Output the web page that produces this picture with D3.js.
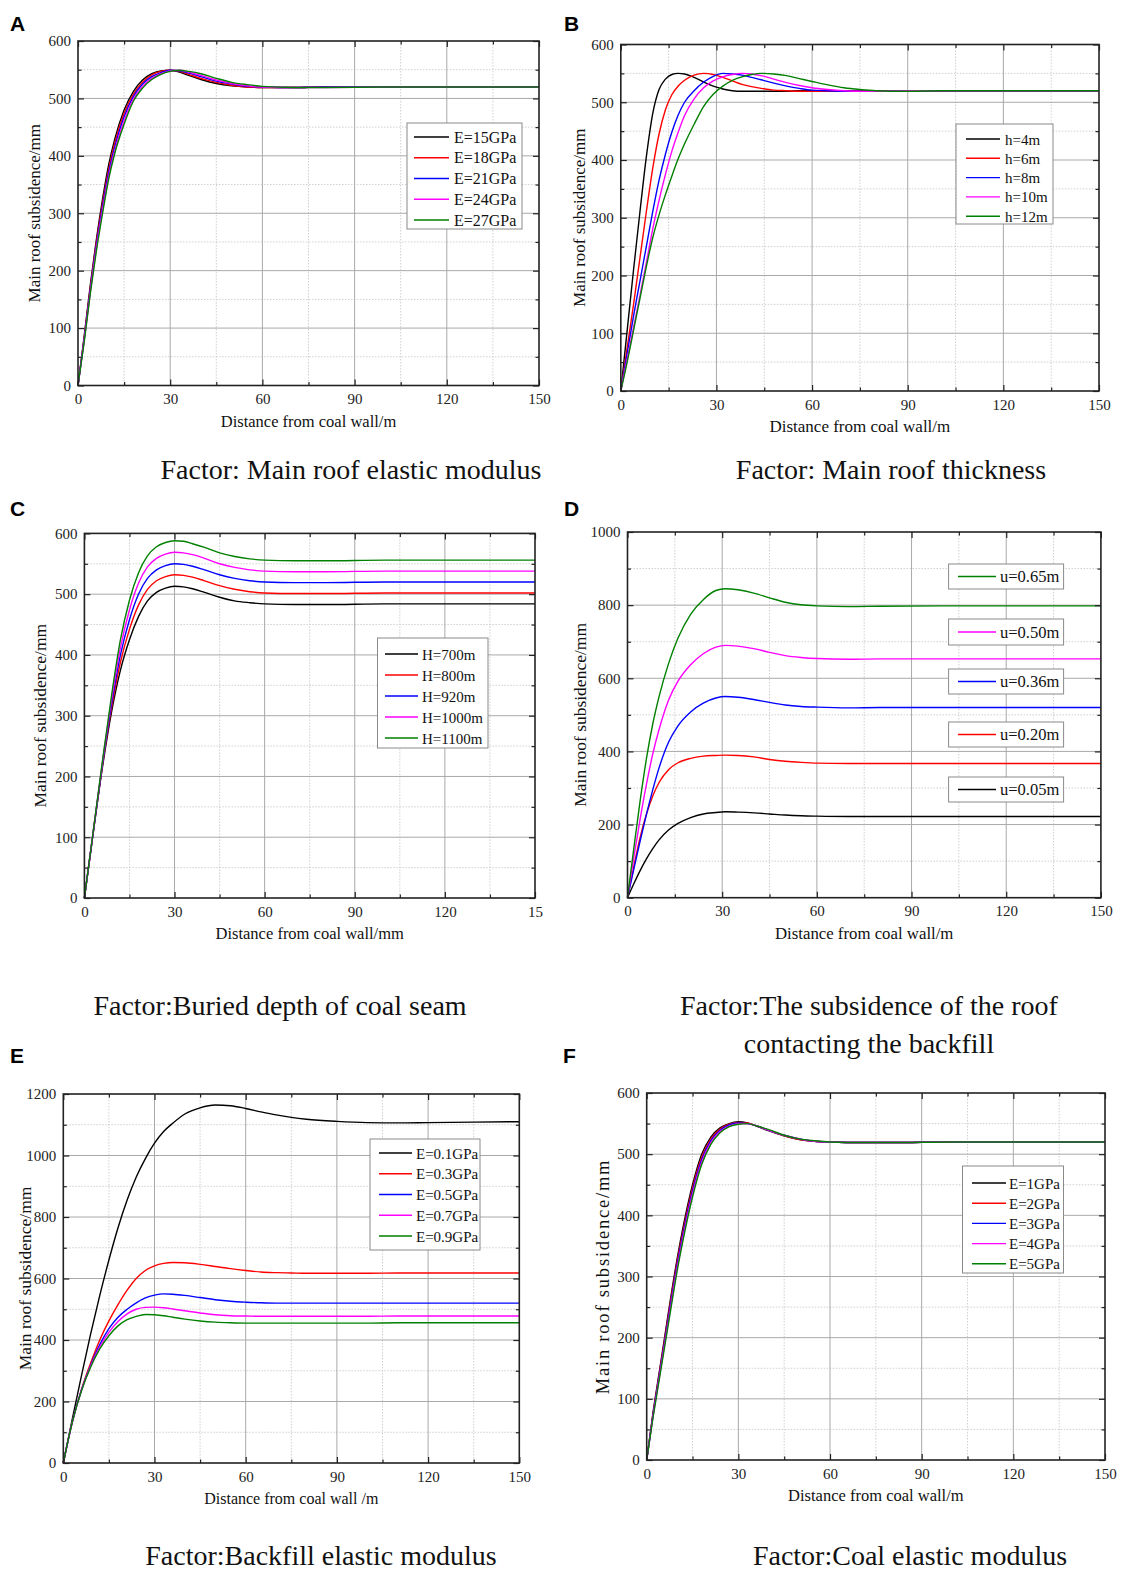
<!DOCTYPE html>
<html lang="en">
<head>
<meta charset="UTF-8">
<script src="https://d3js.org/d3.v7.min.js"></script>
<style>
    body { margin: 0; background: #fff; }
    svg { display: block; }
    .tick text { font-family: "Liberation Serif", "Times New Roman", serif; font-size: 15px; fill: #222; }
    .axis-title { font-family: "Liberation Serif", "Times New Roman", serif; fill: #111; }
    .caption { font-family: "Liberation Serif", "Times New Roman", serif; font-size: 28px; fill: #111; }
    .letter { font-family: "Liberation Sans", Arial, sans-serif; font-weight: bold; font-size: 21px; fill: #000; }
    .legend-text { font-family: "Liberation Serif", "Times New Roman", serif; fill: #111; }
</style>
</head>
<body>
<svg id="fig" width="1121" height="1575"></svg>
<script>
// ---- data ----
const seriesColors = ["#000000", "#ff0000", "#0000ff", "#ff00ff", "#008000"];
const xTicks = [0, 30, 60, 90, 120, 150];

// A: main roof elastic modulus
const aNames = ["E=15GPa", "E=18GPa", "E=21GPa", "E=24GPa", "E=27GPa"];
const aX = [0, 2, 4, 6, 8, 10, 12, 15, 18, 21, 24, 27, 30, 33, 36, 40, 45, 50, 55, 60, 70, 80, 100, 150];
const aValues = [
    [0, 85, 175, 255, 325, 385, 430, 480, 512, 532, 543, 548, 549, 546, 540, 533, 526, 522, 520, 519, 519, 520, 520, 520],
    [0, 82, 170, 250, 318, 377, 423, 474, 507, 528, 541, 547, 549, 547, 542, 535, 528, 523, 520, 519, 519, 520, 520, 520],
    [0, 80, 166, 245, 312, 371, 416, 468, 503, 525, 538, 545, 549, 548, 544, 538, 530, 525, 521, 520, 519, 520, 520, 520],
    [0, 78, 163, 240, 306, 365, 410, 461, 499, 521, 535, 543, 548, 549, 546, 540, 532, 526, 522, 520, 519, 519, 520, 520],
    [0, 75, 160, 235, 300, 360, 405, 455, 495, 518, 533, 542, 547, 549, 547, 543, 535, 528, 524, 521, 519, 519, 520, 520]
];

// B: main roof thickness
const bNames = ["h=4m", "h=6m", "h=8m", "h=10m", "h=12m"];
const bX = [0, 2, 4, 6, 8, 10, 12, 14, 16, 18, 20, 23, 26, 29, 32, 35, 38, 41, 44, 48, 52, 56, 60, 65, 70, 75, 80, 90, 100, 150];
const bValues = [
    [0, 105, 210, 310, 405, 480, 522, 540, 548, 550, 549, 543, 535, 528, 523, 520, 519, 519, 519, 519, 519, 520, 520, 520, 520, 520, 520, 520, 520, 520],
    [0, 75, 150, 230, 310, 385, 445, 487, 513, 528, 538, 547, 550, 548, 543, 537, 531, 527, 524, 521, 520, 519, 519, 519, 519, 520, 520, 520, 520, 520],
    [0, 65, 130, 190, 250, 310, 365, 410, 448, 478, 500, 520, 535, 545, 550, 549, 547, 543, 539, 533, 528, 524, 521, 520, 519, 519, 519, 520, 520, 520],
    [0, 55, 110, 165, 222, 280, 330, 375, 415, 448, 477, 506, 525, 537, 544, 548, 550, 549, 546, 540, 534, 529, 525, 522, 520, 519, 519, 520, 520, 520],
    [0, 50, 105, 160, 215, 265, 305, 340, 372, 402, 428, 462, 493, 514, 528, 538, 544, 548, 550, 549, 546, 541, 536, 530, 525, 522, 520, 519, 520, 520]
];

// C: buried depth of coal seam
const cNames = ["H=700m", "H=800m", "H=920m", "H=1000m", "H=1100m"];
const cX = [0, 3, 6, 9, 12, 15, 18, 21, 24, 27, 30, 33, 36, 40, 45, 50, 55, 60, 70, 80, 100, 150];
const cValues = [
    [0, 110, 215, 305, 375, 425, 463, 489, 503, 510, 513, 512, 509, 503, 495, 489, 486, 484, 483, 483, 484, 484],
    [0, 110, 218, 312, 388, 442, 482, 508, 522, 529, 532, 531, 528, 522, 514, 508, 504, 502, 501, 501, 502, 502],
    [0, 110, 220, 318, 400, 458, 500, 526, 540, 547, 550, 549, 546, 540, 532, 526, 522, 520, 519, 519, 520, 520],
    [0, 112, 223, 325, 412, 474, 518, 545, 559, 566, 569, 568, 565, 559, 550, 544, 540, 538, 537, 537, 538, 538],
    [0, 112, 225, 332, 425, 490, 535, 563, 578, 585, 588, 587, 583, 577, 568, 562, 558, 556, 555, 555, 556, 556]
];
const cTickLabels = ["0", "30", "60", "90", "120", "15"];

// D: subsidence of the roof contacting the backfill
const dNames = ["u=0.05m", "u=0.20m", "u=0.36m", "u=0.50m", "u=0.65m"];
const dX = [0, 2, 4, 6, 8, 10, 13, 16, 20, 24, 28, 31, 35, 40, 45, 50, 55, 60, 70, 80, 100, 150];
const dValues = [
    [0, 38, 74, 106, 134, 158, 185, 203, 219, 229, 233, 235, 234, 232, 229, 226, 224, 223, 222, 222, 222, 222],
    [0, 85, 165, 228, 278, 315, 350, 369, 381, 387, 389, 390, 389, 385, 378, 373, 370, 368, 367, 367, 367, 367],
    [0, 78, 155, 228, 295, 355, 425, 470, 508, 532, 546, 550, 548, 542, 534, 527, 523, 521, 519, 520, 520, 520],
    [0, 110, 215, 310, 393, 460, 540, 592, 637, 667, 685, 690, 688, 681, 671, 662, 657, 654, 652, 653, 653, 653],
    [0, 135, 265, 380, 475, 550, 640, 710, 775, 815, 840, 845, 842, 833, 820, 808, 801, 798, 796, 797, 798, 798]
];

// E: backfill elastic modulus
const eNames = ["E=0.1GPa", "E=0.3GPa", "E=0.5GPa", "E=0.7GPa", "E=0.9GPa"];
const eX = [0, 3, 6, 9, 12, 15, 18, 21, 24, 27, 30, 33, 36, 40, 45, 50, 55, 60, 65, 70, 75, 80, 90, 100, 110, 120, 150];
const eValues = [
    [0, 145, 285, 420, 545, 660, 765, 855, 930, 990, 1040, 1078, 1105, 1135, 1155, 1164, 1162, 1153, 1142, 1132, 1124, 1118, 1111, 1107, 1106, 1107, 1110],
    [0, 135, 240, 325, 400, 462, 515, 562, 600, 626, 641, 649, 652, 651, 646, 639, 632, 626, 621, 619, 618, 617, 617, 617, 618, 618, 618],
    [0, 135, 238, 318, 385, 437, 474, 500, 521, 537, 546, 550, 549, 545, 538, 531, 526, 523, 521, 520, 520, 520, 520, 520, 520, 520, 520],
    [0, 135, 237, 315, 378, 425, 460, 485, 500, 506, 507, 505, 501, 495, 488, 482, 479, 478, 477, 477, 477, 477, 477, 477, 478, 478, 478],
    [0, 135, 236, 312, 371, 414, 446, 466, 477, 483, 482, 479, 474, 468, 462, 458, 456, 455, 455, 455, 455, 455, 455, 455, 456, 456, 456]
];

// F: coal elastic modulus
const fNames = ["E=1GPa", "E=2GPa", "E=3GPa", "E=4GPa", "E=5GPa"];
const fX = [0, 2, 4, 6, 8, 10, 12, 15, 18, 21, 24, 27, 30, 33, 36, 40, 45, 50, 55, 60, 70, 80, 100, 150];
const fValues = [
    [0, 75, 140, 205, 270, 330, 383, 450, 500, 528, 543, 550, 553, 551, 546, 538, 530, 524, 521, 520, 519, 519, 520, 520],
    [0, 73, 137, 201, 265, 325, 377, 445, 495, 525, 541, 549, 552, 551, 546, 539, 530, 524, 521, 520, 519, 519, 520, 520],
    [0, 71, 134, 197, 260, 320, 372, 440, 491, 522, 539, 548, 551, 550, 546, 539, 531, 525, 521, 520, 519, 519, 520, 520],
    [0, 69, 131, 193, 255, 315, 367, 435, 487, 519, 537, 546, 550, 550, 546, 539, 531, 525, 521, 520, 519, 519, 520, 520],
    [0, 67, 128, 189, 250, 310, 362, 430, 483, 516, 535, 545, 549, 550, 546, 540, 531, 525, 522, 520, 519, 519, 520, 520]
];

const svg = d3.select("#fig");

function drawPanel(p) {
    const g = svg.append("g");
    const x = d3.scaleLinear().domain([0, 150]).range([p.left, p.right]);
    const y = d3.scaleLinear().domain([0, p.yMax]).range([p.bottom, p.top]);
    const yTicks = d3.range(0, p.yMax + 1, p.yStep);
    const xMinor = d3.range(15, 150, 30);
    const yMinor = d3.range(p.yStep / 2, p.yMax, p.yStep);

    // minor grid (dotted)
    g.selectAll(".gx2").data(xMinor).join("line")
        .attr("x1", d => x(d)).attr("x2", d => x(d)).attr("y1", p.top).attr("y2", p.bottom)
        .attr("stroke", "#c4c4c4").attr("stroke-width", 0.8).attr("stroke-dasharray", "1.5,1.5");
    g.selectAll(".gy2").data(yMinor).join("line")
        .attr("y1", d => y(d)).attr("y2", d => y(d)).attr("x1", p.left).attr("x2", p.right)
        .attr("stroke", "#c4c4c4").attr("stroke-width", 0.8).attr("stroke-dasharray", "1.5,1.5");
    // major grid
    g.selectAll(".gx").data(xTicks.slice(1, -1)).join("line")
        .attr("x1", d => x(d)).attr("x2", d => x(d)).attr("y1", p.top).attr("y2", p.bottom)
        .attr("stroke", "#a9a9a9").attr("stroke-width", 1);
    g.selectAll(".gy").data(yTicks.slice(1, -1)).join("line")
        .attr("y1", d => y(d)).attr("y2", d => y(d)).attr("x1", p.left).attr("x2", p.right)
        .attr("stroke", "#a9a9a9").attr("stroke-width", 1);

    // curves
    const line = d3.line().x(d => x(d[0])).y(d => y(d[1])).curve(d3.curveMonotoneX);
    p.values.forEach((vals, i) => {
        g.append("path")
            .datum(p.xs.map((xv, j) => [xv, vals[j]]))
            .attr("fill", "none")
            .attr("stroke", seriesColors[i])
            .attr("stroke-width", 1.4)
            .attr("d", line);
    });

    // axes, inward ticks on all four sides
    const tickLabels = p.xLabels || xTicks.map(String);
    g.append("g").attr("transform", `translate(0,${p.bottom})`)
        .call(d3.axisBottom(x).tickValues(xTicks).tickSizeInner(-6).tickSizeOuter(0).tickPadding(8)
            .tickFormat((d, i) => tickLabels[i]));
    g.append("g").attr("transform", `translate(0,${p.bottom})`)
        .call(d3.axisBottom(x).tickValues(xMinor).tickSizeInner(-3.5).tickSizeOuter(0).tickFormat(""));
    g.append("g").attr("transform", `translate(0,${p.top})`)
        .call(d3.axisTop(x).tickValues(xTicks).tickSizeInner(-6).tickSizeOuter(0).tickFormat(""));
    g.append("g").attr("transform", `translate(0,${p.top})`)
        .call(d3.axisTop(x).tickValues(xMinor).tickSizeInner(-3.5).tickSizeOuter(0).tickFormat(""));
    g.append("g").attr("transform", `translate(${p.left},0)`)
        .call(d3.axisLeft(y).tickValues(yTicks).tickSizeInner(-6).tickSizeOuter(0).tickPadding(7)
            .tickFormat(d3.format("d")));
    g.append("g").attr("transform", `translate(${p.left},0)`)
        .call(d3.axisLeft(y).tickValues(yMinor).tickSizeInner(-3.5).tickSizeOuter(0).tickFormat(""));
    g.append("g").attr("transform", `translate(${p.right},0)`)
        .call(d3.axisRight(y).tickValues(yTicks).tickSizeInner(-6).tickSizeOuter(0).tickFormat(""));
    g.append("g").attr("transform", `translate(${p.right},0)`)
        .call(d3.axisRight(y).tickValues(yMinor).tickSizeInner(-3.5).tickSizeOuter(0).tickFormat(""));
    g.selectAll(".domain").remove();
    g.selectAll(".tick line").attr("stroke", "#222").attr("stroke-width", 1.2);

    // frame
    g.append("rect").attr("x", p.left).attr("y", p.top)
        .attr("width", p.right - p.left).attr("height", p.bottom - p.top)
        .attr("fill", "none").attr("stroke", "#222").attr("stroke-width", 1.6);

    // axis titles
    g.append("text").attr("class", "axis-title")
        .attr("x", (p.left + p.right) / 2).attr("y", p.bottom + 41)
        .attr("text-anchor", "middle").style("font-size", p.xTitleSize + "px").text(p.xTitle);
    const cy = (p.top + p.bottom) / 2;
    g.append("text").attr("class", "axis-title")
        .attr("transform", `translate(${p.left - p.yTitleOff},${cy}) rotate(-90)`)
        .attr("text-anchor", "middle").style("font-size", p.yTitleSize + "px")
        .style("letter-spacing", (p.yTitleSpacing || 0) + "px")
        .text("Main roof subsidence/mm");

    // legend
    p.legend.forEach(lg => {
        g.append("rect").attr("x", lg.x).attr("y", lg.y).attr("width", lg.w).attr("height", lg.h)
            .attr("fill", "#fff").attr("stroke", "#8a8a8a").attr("stroke-width", 1);
        lg.items.forEach((si, k) => {
            const ry = lg.row0 + k * (lg.step || 0);
            g.append("line").attr("x1", lg.lx1).attr("x2", lg.lx2)
                .attr("y1", ry).attr("y2", ry)
                .attr("stroke", seriesColors[si]).attr("stroke-width", 1.4);
            g.append("text").attr("class", "legend-text")
                .attr("x", lg.tx).attr("y", ry + 5.5)
                .style("font-size", p.legendSize + "px")
                .text(p.names[si]);
        });
    });

    // panel letter and caption
    g.append("text").attr("class", "letter").attr("x", p.letterX).attr("y", p.letterY).text(p.letter);
    p.caption.forEach((c, k) => {
        g.append("text").attr("class", "caption").attr("text-anchor", "middle")
            .attr("x", p.capX).attr("y", p.capY + k * 38).text(c);
    });
}

drawPanel({ letter: "A", letterX: 10, letterY: 31, left: 78, right: 539, top: 41, bottom: 385.5,
    yMax: 600, yStep: 100, xs: aX, values: aValues, names: aNames,
    xTitle: "Distance from coal wall/m", xTitleSize: 16.5, yTitleOff: 38, yTitleSize: 17,
    legendSize: 16,
    legend: [{ x: 407, y: 123, w: 115, h: 106, row0: 137, step: 20.75, lx1: 414, lx2: 449, tx: 454, items: [0, 1, 2, 3, 4] }],
    caption: ["Factor: Main roof elastic modulus"], capX: 351, capY: 479 });

drawPanel({ letter: "B", letterX: 564, letterY: 31, left: 620.8, right: 1099, top: 44.5, bottom: 391,
    yMax: 600, yStep: 100, xs: bX, values: bValues, names: bNames,
    xTitle: "Distance from coal wall/m", xTitleSize: 17, yTitleOff: 36, yTitleSize: 17,
    legendSize: 15,
    legend: [{ x: 956, y: 124, w: 97, h: 100, row0: 139, step: 19.3, lx1: 966, lx2: 1000, tx: 1005, items: [0, 1, 2, 3, 4] }],
    caption: ["Factor: Main roof thickness"], capX: 891, capY: 479 });

drawPanel({ letter: "C", letterX: 10, letterY: 516, left: 84.4, right: 535, top: 533.4, bottom: 898,
    yMax: 600, yStep: 100, xs: cX, values: cValues, names: cNames, xLabels: cTickLabels,
    xTitle: "Distance from coal wall/mm", xTitleSize: 16.5, yTitleOff: 38, yTitleSize: 17.5,
    legendSize: 15,
    legend: [{ x: 377.5, y: 638, w: 110.5, h: 110, row0: 654, step: 21, lx1: 385, lx2: 418, tx: 422, items: [0, 1, 2, 3, 4] }],
    caption: ["Factor:Buried depth of coal seam"], capX: 280, capY: 1015 });

drawPanel({ letter: "D", letterX: 564, letterY: 516, left: 627.5, right: 1100.9, top: 532, bottom: 897.7,
    yMax: 1000, yStep: 200, xs: dX, values: dValues, names: dNames,
    xTitle: "Distance from coal wall/m", xTitleSize: 16.8, yTitleOff: 42, yTitleSize: 17.5,
    legendSize: 16.5,
    legend: [
        { x: 948.6, y: 564, w: 115, h: 25, row0: 576.5, lx1: 958, lx2: 996, tx: 1000, items: [4] },
        { x: 948.6, y: 619, w: 115, h: 26, row0: 632, lx1: 958, lx2: 996, tx: 1000, items: [3] },
        { x: 948.6, y: 669, w: 115, h: 25, row0: 681.5, lx1: 958, lx2: 996, tx: 1000, items: [2] },
        { x: 948.6, y: 722, w: 115, h: 25, row0: 734.5, lx1: 958, lx2: 996, tx: 1000, items: [1] },
        { x: 948.6, y: 777, w: 115, h: 25, row0: 789.5, lx1: 958, lx2: 996, tx: 1000, items: [0] }
    ],
    caption: ["Factor:The subsidence of the roof", "contacting the backfill"], capX: 869, capY: 1015 });

drawPanel({ letter: "E", letterX: 10, letterY: 1063, left: 63.3, right: 519.3, top: 1094, bottom: 1463,
    yMax: 1200, yStep: 200, xs: eX, values: eValues, names: eNames,
    xTitle: "Distance from coal wall /m", xTitleSize: 16, yTitleOff: 32, yTitleSize: 17.5,
    legendSize: 15,
    legend: [{ x: 370, y: 1139, w: 110, h: 111, row0: 1153, step: 20.75, lx1: 379, lx2: 412, tx: 416, items: [0, 1, 2, 3, 4] }],
    caption: ["Factor:Backfill elastic modulus"], capX: 321, capY: 1565 });

drawPanel({ letter: "F", letterX: 563, letterY: 1063, left: 646.7, right: 1105, top: 1093, bottom: 1460,
    yMax: 600, yStep: 100, xs: fX, values: fValues, names: fNames,
    xTitle: "Distance from coal wall/m", xTitleSize: 16.5, yTitleOff: 38, yTitleSize: 18.5, yTitleSpacing: 1.8,
    legendSize: 15,
    legend: [{ x: 962.5, y: 1166, w: 101, h: 107, row0: 1183, step: 20.2, lx1: 972, lx2: 1006, tx: 1009, items: [0, 1, 2, 3, 4] }],
    caption: ["Factor:Coal elastic modulus"], capX: 910, capY: 1565 });
</script>
</body>
</html>
